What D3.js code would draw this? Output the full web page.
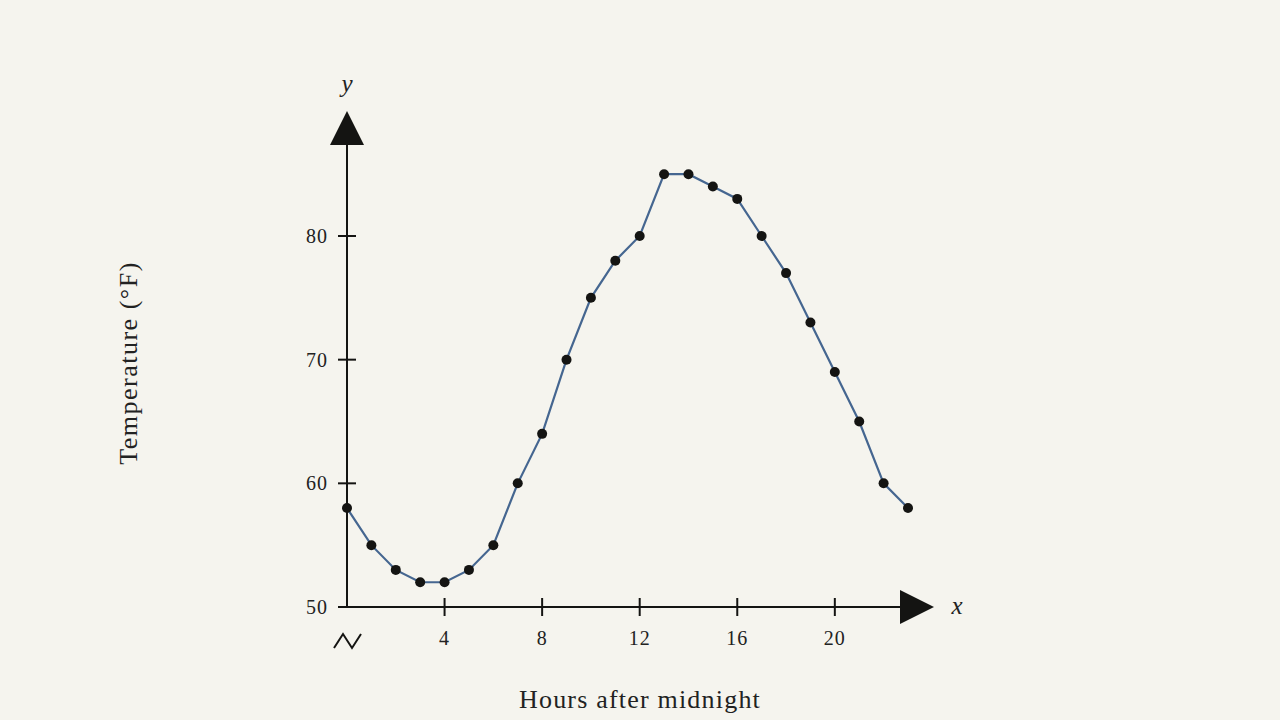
<!DOCTYPE html>
<html><head><meta charset="utf-8">
<script src="https://cdn.jsdelivr.net/npm/d3@7"></script>
<style>
html,body{margin:0;padding:0;background:#f5f4ee;}
svg{display:block;}
text{font-family:"Liberation Serif","DejaVu Serif",serif;fill:#222;}
</style></head>
<body>
<svg id="chart" width="1280" height="720"></svg>
<script>
const hours = [0,1,2,3,4,5,6,7,8,9,10,11,12,13,14,15,16,17,18,19,20,21,22,23];
const temps = [58,55,53,52,52,53,55,60,64,70,75,78,80,85,85,84,83,80,77,73,69,65,60,58];
const xTicks = [4,8,12,16,20];
const yTicks = [50,60,70,80];
const xTitle = "Hours after midnight";
const yTitle = "Temperature (°F)";

const svg = d3.select("#chart");
const x = d3.scaleLinear().domain([0,23]).range([347,908]);
const y = d3.scaleLinear().domain([50,80]).range([607,236]);
const ink = "#141412";

// axes lines
svg.append("line").attr("x1",x(0)).attr("x2",902).attr("y1",y(50)).attr("y2",y(50))
  .attr("stroke",ink).attr("stroke-width",2);
svg.append("line").attr("x1",x(0)).attr("x2",x(0)).attr("y1",y(50)).attr("y2",142)
  .attr("stroke",ink).attr("stroke-width",2);
// arrows
svg.append("path").attr("d",`M${x(0)-17},145 L${x(0)+17},145 L${x(0)},111 Z`).attr("fill",ink);
svg.append("path").attr("d",`M900,${y(50)-17} L900,${y(50)+17} L934,${y(50)} Z`).attr("fill",ink);

// y ticks
const yg = svg.append("g");
yTicks.forEach(t=>{
  yg.append("line").attr("x1",x(0)-9).attr("x2",x(0)+9).attr("y1",y(t)).attr("y2",y(t))
    .attr("stroke",ink).attr("stroke-width",2);
  yg.append("text").attr("x",x(0)-19).attr("y",y(t)).attr("dy","0.35em")
    .attr("text-anchor","end").attr("font-size",20).attr("letter-spacing",1).text(t);
});
// x ticks
const xg = svg.append("g");
xTicks.forEach(t=>{
  xg.append("line").attr("x1",x(t)).attr("x2",x(t)).attr("y1",y(50)-9).attr("y2",y(50)+9)
    .attr("stroke",ink).attr("stroke-width",2);
  xg.append("text").attr("x",x(t)).attr("y",y(50)+31).attr("dy","0.35em")
    .attr("text-anchor","middle").attr("font-size",20).attr("letter-spacing",1).text(t);
});
// axis break symbol
svg.append("path").attr("d","M334,648 L343,634 L352,648 L361,634")
  .attr("fill","none").attr("stroke",ink).attr("stroke-width",2);

// axis letters
svg.append("text").attr("x",x(0)).attr("y",83).attr("dy","0.35em").attr("text-anchor","middle")
  .attr("font-size",25).attr("font-style","italic").text("y");
svg.append("text").attr("x",957).attr("y",y(50)-2).attr("dy","0.35em").attr("text-anchor","middle")
  .attr("font-size",25).attr("font-style","italic").text("x");

// titles
svg.append("text").attr("transform","translate(128,363) rotate(-90)").attr("dy","0.35em")
  .attr("text-anchor","middle").attr("font-size",26).attr("letter-spacing",1.5).text(yTitle);
svg.append("text").attr("x",640).attr("y",699).attr("dy","0.35em")
  .attr("text-anchor","middle").attr("font-size",26).attr("letter-spacing",1.2).text(xTitle);

// line and points
const data = hours.map((h,i)=>({h, t:temps[i]}));
svg.append("path").datum(data)
  .attr("d", d3.line().x(d=>x(d.h)).y(d=>y(d.t)))
  .attr("fill","none").attr("stroke","#456690").attr("stroke-width",2.2);
svg.selectAll("circle.pt").data(data).join("circle").attr("class","pt")
  .attr("cx",d=>x(d.h)).attr("cy",d=>y(d.t)).attr("r",5).attr("fill",ink);
</script>
</body></html>
